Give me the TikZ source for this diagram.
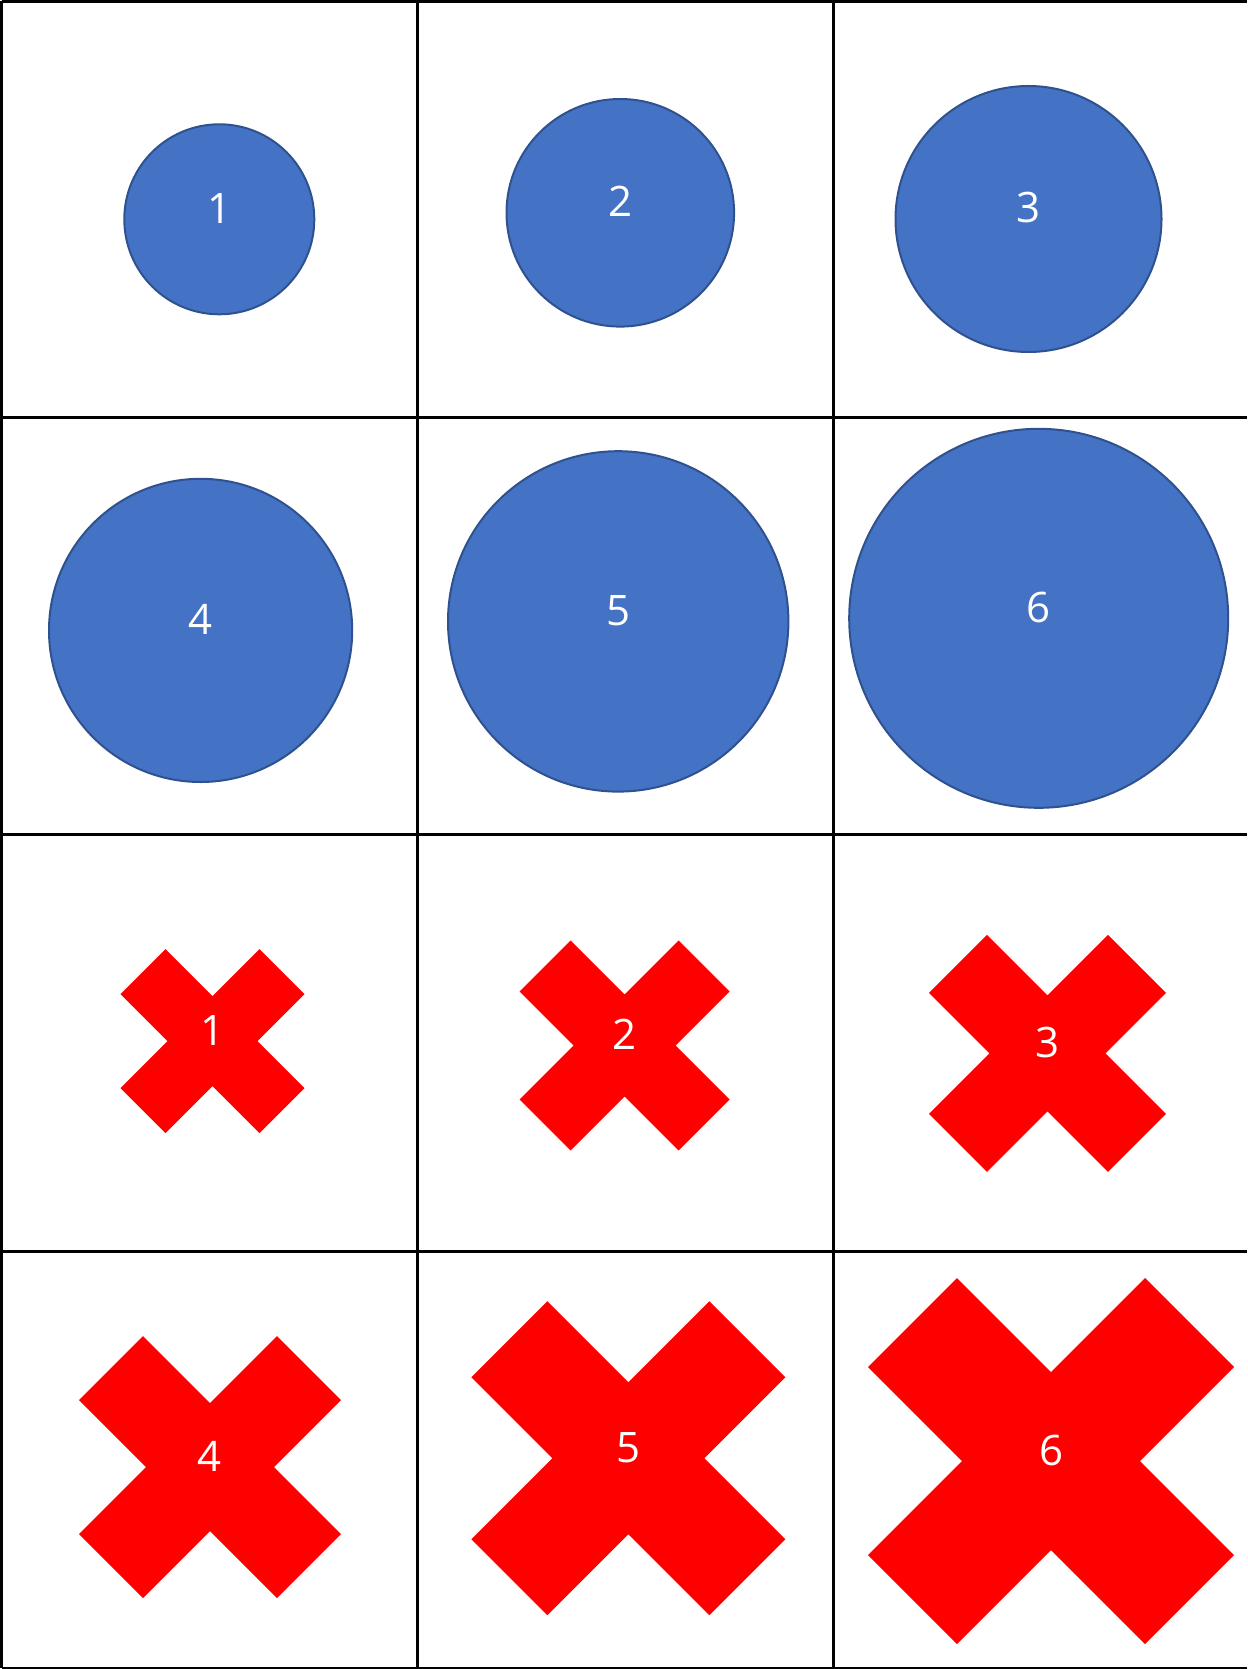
\documentclass[tikz,border=0pt]{standalone}
\usepackage{fontspec}
\setmainfont{Open Sans}
\usepackage{xcolor}
\usepackage{tikz}
\definecolor{dotfill}{HTML}{4472C4}
\definecolor{dotline}{HTML}{2F528F}
\definecolor{crossc}{HTML}{FF0000}
\tikzset{
  gl/.style={line width=2.4pt,black},
  dot/.style={circle,draw=dotline,line width=2pt,fill=dotfill,inner sep=0pt},
  num/.style={anchor=base,text=white,inner sep=0pt,font=\fontsize{42}{50}\selectfont}
}
% #1 name, #2 cx, #3 cy, #4 half size, #5 arm, #6 text
\newcommand{\crossmk}[6]{%
  \fill[crossc] ({#2-#4+#5},{#3-#4}) -- (#2,{#3-#5}) -- ({#2+#4-#5},{#3-#4})
    -- ({#2+#4},{#3-#4+#5}) -- ({#2+#5},#3) -- ({#2+#4},{#3+#4-#5})
    -- ({#2+#4-#5},{#3+#4}) -- (#2,{#3+#5}) -- ({#2-#4+#5},{#3+#4})
    -- ({#2-#4},{#3+#4-#5}) -- ({#2-#5},#3) -- ({#2-#4},{#3-#4+#5}) -- cycle;
  \node[num] (#1) at (#2,{#3+4}) {#6};}
\begin{document}
\begin{tikzpicture}[x=1pt,y=-1pt]
\useasboundingbox (0,0) rectangle (1247,1669);
% grid
\foreach \gx in {1.5,417.5,833.5} \draw[gl] (\gx,1) -- (\gx,1668);
\foreach \gy in {1.5,417.5,834.5,1251.5,1668} \draw[gl] (1.5,\gy) -- (1247,\gy);
% circles
\foreach \n/\cx/\cy/\r in {1/219.3/219.3/95,2/620.3/212.8/113.8,3/1028.5/219/133,
    4/200.6/630.4/151.6,5/618.2/621.4/170.2,6/1038.7/618.3/189.5}{
  \node[dot,minimum size={2*\r*1pt}] (circ\n) at (\cx,\cy) {};
  \node[num] (lbc\n) at (\cx,{\cy+4}) {\n};
}
% crosses
\crossmk{lbx1}{212.5}{1041}{92}{45}{1}
\crossmk{lbx2}{624.6}{1045.4}{105}{51}{2}
\crossmk{lbx3}{1047.5}{1053.4}{118.5}{58}{3}
\crossmk{lbx4}{210}{1467}{131}{64}{4}
\crossmk{lbx5}{628.3}{1458.2}{157}{76}{5}
\crossmk{lbx6}{1051}{1461}{183}{89}{6}
\end{tikzpicture}
\end{document}
